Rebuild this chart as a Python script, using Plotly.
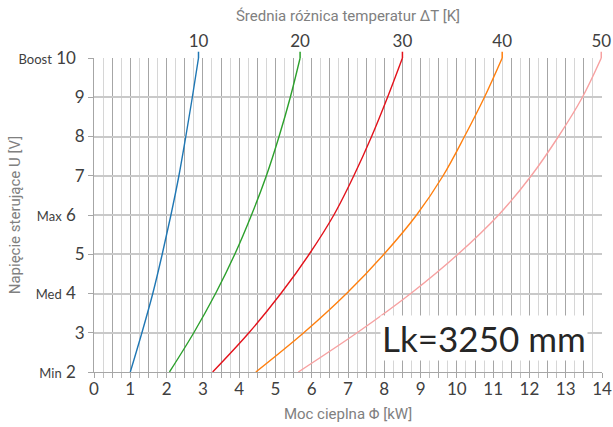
import plotly.graph_objects as go

# ---- data ----
voltage = [2, 3, 4, 5, 6, 7, 8, 9, 10]
p_dt10 = [1.00, 1.32, 1.62, 1.88, 2.12, 2.34, 2.53, 2.71, 2.88]
p_dt20 = [2.08, 2.75, 3.35, 3.88, 4.34, 4.75, 5.10, 5.41, 5.68]
p_dt30 = [3.27, 4.27, 5.15, 5.93, 6.61, 7.16, 7.65, 8.09, 8.50]
p_dt40 = [4.46, 5.78, 6.96, 7.99, 8.89, 9.62, 10.21, 10.76, 11.25]
p_dt50 = [5.63, 7.25, 8.73, 10.03, 11.15, 12.05, 12.80, 13.46, 13.98]
dt_labels = ["10", "20", "30", "40", "50"]
x_tick_labels = [str(i) for i in range(15)]
y_tick_values = [2, 3, 4, 5, 6, 7, 8, 9, 10]
y_level_names = {2: "Min", 4: "Med", 6: "Max", 10: "Boost"}
note_text = "Lk=3250 mm"
y_title = "Napięcie sterujące U [V]"

series = [p_dt10, p_dt20, p_dt30, p_dt40, p_dt50]
colors = ["#1f77b4", "#2ca02c", "#e3121b", "#ff7f0e", "#f7a1a1"]

fig = go.Figure()
for pw, col, lab in zip(series, colors, dt_labels):
    fig.add_trace(go.Scatter(x=pw, y=voltage, mode="lines", name=lab,
                             line=dict(color=col, width=1.4, shape="spline"),
                             showlegend=False, hoverinfo="skip"))

ends = [s[-1] for s in series]
fig.add_trace(go.Scatter(x=ends, y=[voltage[-1]] * len(ends), xaxis="x2", mode="markers",
                         marker=dict(opacity=0), showlegend=False, hoverinfo="skip"))

# x tick values every 0.5 with labels only at integers
xtv = [i * 0.5 for i in range(29)]
xtt = []
for v in xtv:
    xtt.append(x_tick_labels[int(v)] if v == int(v) else "")

ytt = []
for v in y_tick_values:
    if v in y_level_names:
        ytt.append("<span style='font-size:13px'>%s</span> %d\u00a0\u00a0" % (y_level_names[v], v))
    else:
        ytt.append(str(v))

num_font = dict(family="Lato, Open Sans, sans-serif", size=17, color="#404040")
title_font = dict(family="Roboto, sans-serif", size=15, color="#808080")

shapes = []
for e, col in zip(ends, colors):
    shapes.append(dict(type="line", xref="x", yref="paper", x0=e, x1=e, y0=1, y1=1.02,
                       line=dict(color=col, width=1.5)))

fig.update_layout(
    width=613, height=427,
    margin=dict(l=94, r=11, t=58, b=55),
    paper_bgcolor="white", plot_bgcolor="white",
    shapes=shapes,
    xaxis=dict(range=[0, 14], tickvals=xtv, ticktext=xtt, showgrid=True, automargin=False,
               gridcolor="#a6a6a6", gridwidth=1, zeroline=False,
               ticks="outside", ticklen=5, tickcolor="#a6a6a6", ticklabelstandoff=-3,
               minor=dict(dtick=0.25, showgrid=True, gridcolor="#d6d6d6", gridwidth=1,
                          ticks="outside", ticklen=5, tickcolor="#bdbdbd"),
               showline=True, linecolor="#a6a6a6", linewidth=1,
               tickfont=num_font,
               title=dict(text="Moc cieplna Φ [kW]", font=title_font, standoff=10)),
    xaxis2=dict(range=[0, 14], overlaying="x", side="top", tickvals=ends, ticktext=dt_labels,
                showgrid=False, zeroline=False, ticks="outside", ticklen=3, automargin=False,
                tickcolor="rgba(0,0,0,0)", tickfont=num_font,
                title=dict(text="Średnia różnica temperatur ΔT [K]", font=title_font, standoff=4)),
    yaxis=dict(range=[2, 10], tickvals=y_tick_values, ticktext=ytt, showgrid=True, automargin=False,
               gridcolor="#c9c9c9", gridwidth=1.5, zeroline=False,
               ticks="outside", ticklen=5, tickcolor="#a6a6a6",
               showline=True, linecolor="#a6a6a6", linewidth=1,
               tickfont=num_font),
    annotations=[dict(x=10.74, y=2.87, xref="x", yref="y", text=note_text, showarrow=False,
                      font=dict(family="Lato, Open Sans, sans-serif", size=35, color="#262626"),
                      bgcolor="white", borderpad=1),
                 dict(x=-0.155, y=0.5, xref="paper", yref="paper", text=y_title, showarrow=False,
                      textangle=-90, font=title_font, xanchor="center", yanchor="middle")],
)

fig.write_html("out.html", config={"displayModeBar": False},
               post_script="document.body.style.margin='0';document.body.style.padding='0';")
